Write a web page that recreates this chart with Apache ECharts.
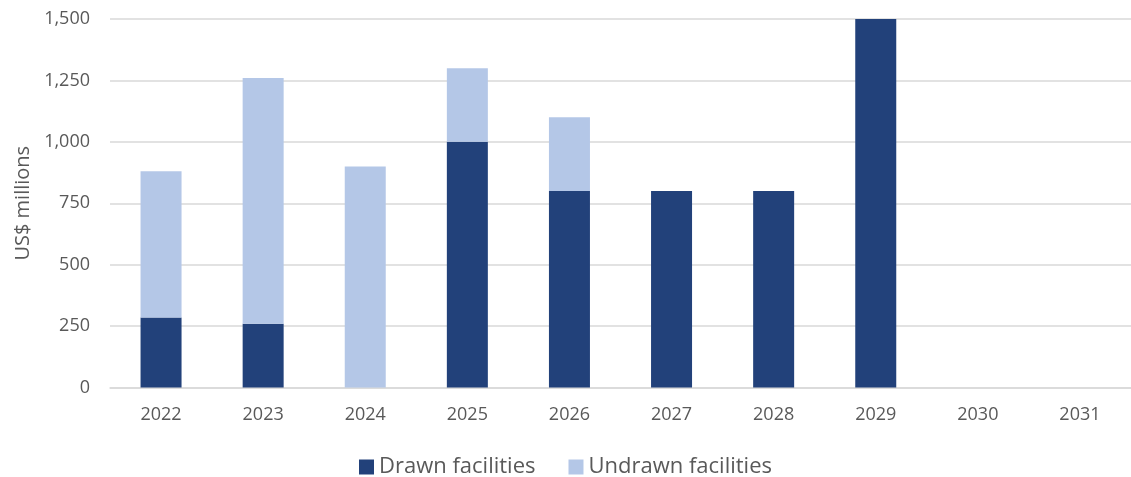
<!DOCTYPE html>
<html>
<head>
<meta charset="utf-8">
<script src="https://cdn.jsdelivr.net/npm/echarts@6/dist/echarts.min.js"></script>
<style>
  html, body { margin: 0; padding: 0; background: #ffffff; }
  #chart { width: 1131px; height: 477px; }
</style>
</head>
<body>
<div id="chart"></div>
<script>
// Debt maturity profile, US$ millions
const years = ['2022', '2023', '2024', '2025', '2026', '2027', '2028', '2029', '2030', '2031'];
const drawn = [285, 260, 0, 1000, 800, 800, 800, 1500, 0, 0];
const undrawn = [595, 1000, 900, 300, 300, 0, 0, 0, 0, 0];
const yTicks = [0, 250, 500, 750, 1000, 1250, 1500];

const textColor = '#595959';
const fontFamily = '"Open Sans", "Liberation Sans", sans-serif';

const chart = echarts.init(document.getElementById('chart'), null, { renderer: 'canvas' });

chart.setOption({
  animation: false,
  backgroundColor: '#ffffff',
  textStyle: { fontFamily: fontFamily },
  grid: { left: 110, top: 19, width: 1030, height: 368.5, containLabel: false },
  legend: {
    top: 451,
    left: 'center',
    itemWidth: 15,
    itemHeight: 15,
    itemGap: 33,
    icon: 'rect',
    textStyle: { color: textColor, fontSize: 22, fontFamily: fontFamily },
    data: ['Drawn facilities', 'Undrawn facilities']
  },
  xAxis: {
    type: 'category',
    data: years,
    axisLine: { show: true, lineStyle: { color: '#d9d9d9', width: 1.5 } },
    axisTick: { show: false },
    axisLabel: { color: textColor, fontSize: 18, margin: 18 }
  },
  yAxis: {
    type: 'value',
    min: yTicks[0],
    max: yTicks[yTicks.length - 1],
    interval: 250,
    name: 'US$ millions',
    nameLocation: 'middle',
    nameGap: 77,
    nameTextStyle: { color: textColor, fontSize: 20 },
    axisLine: { show: false },
    axisTick: { show: false },
    axisLabel: {
      color: textColor,
      fontSize: 18,
      margin: 20,
      formatter: v => v.toLocaleString('en-US')
    },
    splitLine: { lineStyle: { color: '#d9d9d9', width: 1.5 } }
  },
  series: [
    {
      name: 'Drawn facilities',
      type: 'bar',
      stack: 'total',
      data: drawn,
      barWidth: 41,
      itemStyle: { color: '#22417a' }
    },
    {
      name: 'Undrawn facilities',
      type: 'bar',
      stack: 'total',
      data: undrawn,
      barWidth: 41,
      itemStyle: { color: '#b4c7e7' }
    }
  ]
});
</script>
</body>
</html>
